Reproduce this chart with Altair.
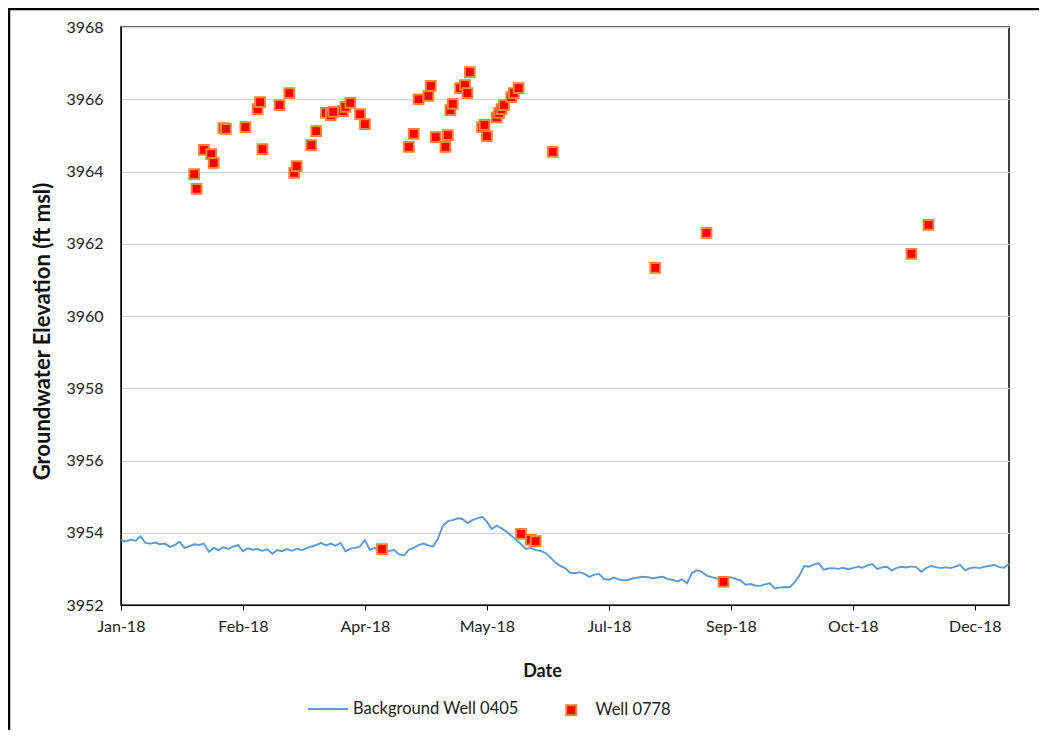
import altair as alt
import pandas as pd

# ---- data ----
# Background Well 0405: values every 2 days starting 2018-01-01
bg_start = "2018-01-01"
bg_step_days = 2
bg_values = [
    3953.80, 3953.76, 3953.81, 3953.78, 3953.90, 3953.72, 3953.70, 3953.73, 3953.68, 3953.70,
    3953.61, 3953.66, 3953.75, 3953.58, 3953.63, 3953.68, 3953.66, 3953.70, 3953.47, 3953.58,
    3953.52, 3953.60, 3953.55, 3953.62, 3953.66, 3953.49, 3953.57, 3953.53, 3953.55, 3953.50,
    3953.54, 3953.42, 3953.52, 3953.49, 3953.55, 3953.50, 3953.56, 3953.52, 3953.57, 3953.62,
    3953.66, 3953.72, 3953.65, 3953.70, 3953.64, 3953.72, 3953.49, 3953.56, 3953.58, 3953.62,
    3953.80, 3953.53, 3953.58, 3953.47, 3953.44, 3953.50, 3953.52, 3953.40, 3953.37, 3953.53,
    3953.58, 3953.66, 3953.70, 3953.65, 3953.62, 3953.85, 3954.20, 3954.32, 3954.35, 3954.40,
    3954.38, 3954.27, 3954.35, 3954.40, 3954.44, 3954.30, 3954.10, 3954.20, 3954.12, 3954.03,
    3953.92, 3953.80, 3953.68, 3953.55, 3953.58, 3953.52, 3953.50, 3953.44, 3953.32, 3953.18,
    3953.08, 3953.02, 3952.90, 3952.88, 3952.91, 3952.86, 3952.78, 3952.84, 3952.86, 3952.72,
    3952.70, 3952.76, 3952.71, 3952.68, 3952.70, 3952.74, 3952.76, 3952.78, 3952.77, 3952.74,
    3952.76, 3952.78, 3952.72, 3952.70, 3952.65, 3952.71, 3952.60, 3952.88, 3952.96, 3952.92,
    3952.82, 3952.77, 3952.74, 3952.71, 3952.73, 3952.77, 3952.72, 3952.68, 3952.56, 3952.58,
    3952.54, 3952.53, 3952.57, 3952.60, 3952.46, 3952.48, 3952.50, 3952.49, 3952.62, 3952.80,
    3953.08, 3953.06, 3953.12, 3953.16, 3952.98, 3953.01, 3953.02, 3953.00, 3953.03, 3952.99,
    3953.02, 3953.06, 3953.03, 3953.10, 3953.13, 3953.00, 3953.04, 3953.06, 3952.95, 3953.03,
    3953.06, 3953.04, 3953.07, 3953.05, 3952.92, 3953.02, 3953.08, 3953.05, 3953.02, 3953.04,
    3953.02, 3953.06, 3953.11, 3952.96, 3953.02, 3953.04, 3953.02, 3953.06, 3953.08, 3953.11,
    3953.05, 3953.03, 3953.14,
]

# Well 0778 measurements
w_dates = [
    "2018-01-31", "2018-02-01", "2018-02-04", "2018-02-07", "2018-02-08", "2018-02-12",
    "2018-02-13", "2018-02-21", "2018-02-26", "2018-02-27", "2018-02-28", "2018-03-07",
    "2018-03-11", "2018-03-13", "2018-03-14", "2018-03-20", "2018-03-22", "2018-03-26",
    "2018-03-28", "2018-03-29", "2018-04-02", "2018-04-03", "2018-04-05", "2018-04-09",
    "2018-04-11", "2018-04-18", "2018-04-29", "2018-05-01", "2018-05-03", "2018-05-07",
    "2018-05-08", "2018-05-10", "2018-05-14", "2018-05-15", "2018-05-16", "2018-05-17",
    "2018-05-20", "2018-05-22", "2018-05-23", "2018-05-24", "2018-05-29", "2018-05-30",
    "2018-05-31", "2018-06-04", "2018-06-05", "2018-06-06", "2018-06-07", "2018-06-10",
    "2018-06-11", "2018-06-13", "2018-06-14", "2018-06-18", "2018-06-20", "2018-06-27",
    "2018-08-08", "2018-08-29", "2018-09-05", "2018-11-21", "2018-11-28",
]
w_values = [
    3963.93, 3963.52, 3964.60, 3964.48, 3964.24, 3965.20,
    3965.18, 3965.23, 3965.73, 3965.92, 3964.62, 3965.84,
    3966.17, 3963.96, 3964.15, 3964.73, 3965.12, 3965.62,
    3965.56, 3965.65, 3965.67, 3965.79, 3965.90, 3965.59,
    3965.31, 3953.55, 3964.68, 3965.04, 3966.00, 3966.09,
    3966.37, 3964.95, 3964.68, 3965.01, 3965.70, 3965.87,
    3966.31, 3966.39, 3966.17, 3966.75, 3965.23, 3965.29,
    3964.98, 3965.50, 3965.62, 3965.73, 3965.84, 3966.06,
    3966.17, 3966.31, 3953.97, 3953.80, 3953.77, 3964.54,
    3961.33, 3962.30, 3952.64, 3961.72, 3962.52,
]

x_tick_dates = [(1, 1), (2, 20), (4, 11), (5, 31), (7, 20), (9, 8), (10, 28), (12, 17)]
y_ticks = [3952, 3954, 3956, 3958, 3960, 3962, 3964, 3966, 3968]

BG_NAME = "Background Well 0405"
W_NAME = "Well 0778"
FONT = "Lato"

# ---- tables ----
bg_dates = pd.date_range(bg_start, periods=len(bg_values), freq=f"{bg_step_days}D")
bg = pd.DataFrame({
    "date": [d.strftime("%Y-%m-%dT00:00:00Z") for d in bg_dates],
    "elev": bg_values,
    "series": BG_NAME,
})
wl = pd.DataFrame({
    "date": [d + "T00:00:00Z" for d in w_dates],
    "elev": w_values,
    "series": W_NAME,
})

x_scale = alt.Scale(
    type="utc",
    domain=[alt.DateTime(year=2018, month=1, date=1, utc=True),
            alt.DateTime(year=2018, month=12, date=31, utc=True)],
)
y_scale = alt.Scale(domain=[3952, 3968], nice=False, zero=False)

x_axis = alt.Axis(
    title="Date",
    values=[alt.DateTime(year=2018, month=m, date=d, utc=True) for m, d in x_tick_dates],
    labelExpr="utcFormat(datum.value, '%b-%y')",
    labelFlush=False,
    labelOverlap=False,
    grid=False,
    ticks=True,
    tickSize=5,
    tickColor="#000000",
    domainColor="#000000",
    labelFont=FONT, labelFontSize=16, labelColor="#222222",
    labelPadding=8,
    titleFont=FONT, titleFontSize=18, titleFontWeight="bold", titleColor="#111111",
    titleX=421, titleY=66, titleBaseline="middle", titleAlign="center",
)
y_axis = alt.Axis(
    title="Groundwater Elevation (ft msl)",
    values=y_ticks,
    format="d",
    grid=True, gridColor="#D9D9D9", gridWidth=1.5,
    ticks=False,
    domainColor="#000000",
    labelFont=FONT, labelFontSize=16, labelColor="#222222",
    labelPadding=18,
    titleFont=FONT, titleFontSize=22, titleFontWeight="bold", titleColor="#111111",
    titleAngle=270, titleX=-79, titleY=304, titleBaseline="middle", titleAlign="center",
)

line = alt.Chart(bg).mark_line(strokeWidth=1.9, interpolate="linear").encode(
    x=alt.X("date:T", scale=x_scale, axis=x_axis),
    y=alt.Y("elev:Q", scale=y_scale, axis=y_axis),
    stroke=alt.Stroke(
        "series:N",
        scale=alt.Scale(domain=[BG_NAME], range=["#5B9BD5"]),
        legend=alt.Legend(
            title=None, orient="none", legendX=186, legendY=661,
            symbolType="stroke", symbolSize=1600, symbolStrokeWidth=2,
            labelFont=FONT, labelFontSize=16.5, labelColor="#222222", labelOffset=4,
            labelLimit=400, padding=0,
        ),
    ),
)

points = alt.Chart(wl).mark_point(
    shape="square", filled=True, size=95, stroke="#F58536", strokeWidth=2, opacity=1
).encode(
    x=alt.X("date:T", scale=x_scale),
    y=alt.Y("elev:Q", scale=y_scale),
    fill=alt.Fill(
        "series:N",
        scale=alt.Scale(domain=[W_NAME], range=["#FF0000"]),
        legend=alt.Legend(
            title=None, orient="none", legendX=442, legendY=675,
            symbolType="square", symbolSize=100, symbolStrokeColor="#F58536",
            symbolStrokeWidth=2, symbolOpacity=1,
            labelFont=FONT, labelFontSize=16.5, labelColor="#222222", labelOffset=16,
            labelLimit=400, padding=0,
        ),
    ),
)

frame_data = alt.Data(values=[{"k": 1}])
frame_left = alt.Chart(frame_data).mark_rule(color="#000000", strokeWidth=2.5).encode(
    x=alt.value(-112), y=alt.value(-19), y2=alt.value(720)
)
frame_top = alt.Chart(frame_data).mark_rule(color="#000000", strokeWidth=2.5).encode(
    x=alt.value(-113), x2=alt.value(930), y=alt.value(-18)
)

chart = alt.layer(line, points, frame_left, frame_top).resolve_scale(
    stroke="independent", fill="independent"
).properties(
    width=888, height=578,
    autosize=alt.AutoSizeParams(type="none"),
    padding={"left": 113, "top": 19, "right": 30, "bottom": 125},
    background="white",
).configure_view(
    stroke="#000000", strokeWidth=1.5
)

chart.save("out.html", embed_options={"renderer": "svg", "actions": False})
